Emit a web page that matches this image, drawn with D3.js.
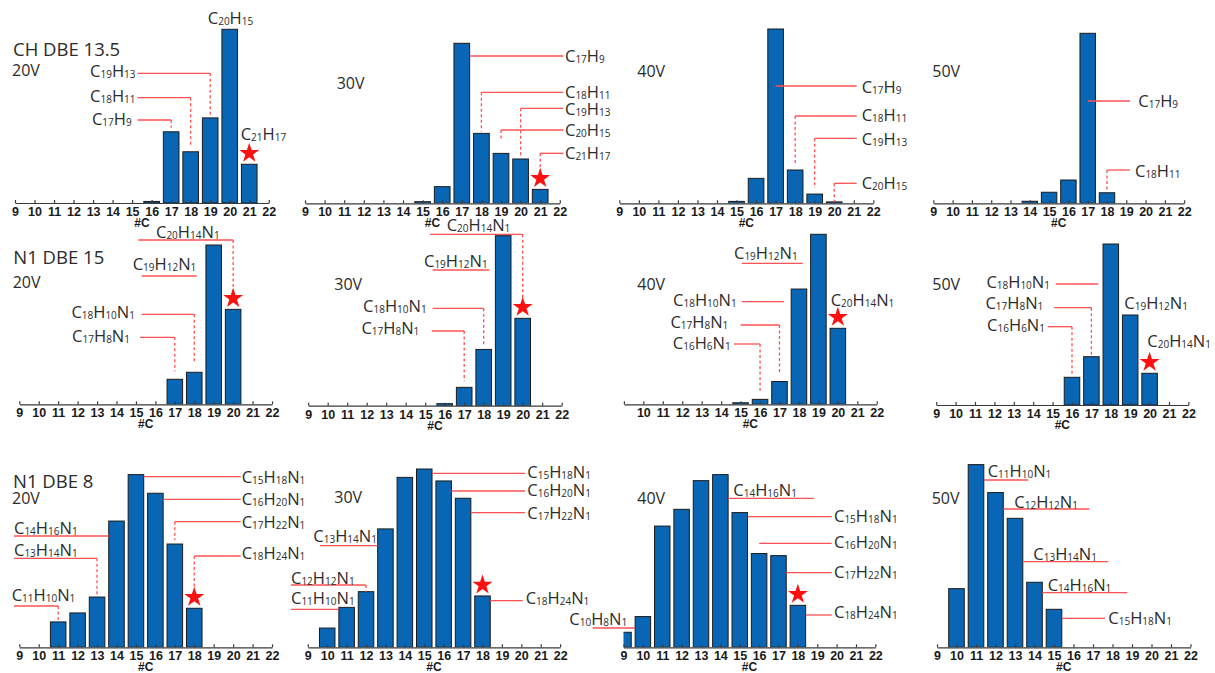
<!DOCTYPE html>
<html>
<head>
<meta charset="utf-8">
<script src="https://cdn.jsdelivr.net/npm/d3@7"></script>
<style>
  body { margin: 0; background: #fff; }
</style>
</head>
<body>
<div id="chart"></div>
<script>
var vWidth = 1215;
var vHeight = 673;

// ---- data: carbon number (#C) and relative abundance for each panel ----
var chC_20V = [16, 17, 18, 19, 20, 21];
var chI_20V = [0.9, 41, 29.5, 49, 100, 22.3];
var chC_30V = [15, 16, 17, 18, 19, 20, 21];
var chI_30V = [1, 10.4, 100, 43.7, 31.2, 27.7, 8.7];
var chC_40V = [15, 16, 17, 18, 19, 20];
var chI_40V = [1.1, 14.3, 100, 19.1, 5.3, 0.8];
var chC_50V = [14, 15, 16, 17, 18];
var chI_50V = [1.2, 6.5, 13.7, 100, 6.2];

var n15C_20V = [17, 18, 19, 20];
var n15I_20V = [15.7, 20.1, 100, 59.6];
var n15C_30V = [16, 17, 18, 19, 20];
var n15I_30V = [1.2, 10.8, 33.1, 100, 51.4];
var n15C_40V = [15, 16, 17, 18, 19, 20];
var n15I_40V = [0.9, 2.9, 13.4, 67.8, 100, 44.7];
var n15C_50V = [16, 17, 18, 19, 20];
var n15I_50V = [17.2, 30, 100, 55.9, 19.7];

var n8C_20V = [11, 12, 13, 14, 15, 16, 17, 18];
var n8I_20V = [14.7, 19.9, 29.1, 73.1, 100, 89.2, 59.8, 22.6];
var n8C_30V = [10, 11, 12, 13, 14, 15, 16, 17, 18];
var n8I_30V = [10.8, 22.4, 31.2, 66.4, 95.3, 100, 93.3, 83.6, 28.8];
var n8C_40V = [9, 10, 11, 12, 13, 14, 15, 16, 17, 18];
var n8I_40V = [8.7, 17.8, 70.2, 79.9, 96.5, 100, 78, 54.3, 53.1, 24.3];
var n8C_50V = [10, 11, 12, 13, 14, 15];
var n8I_50V = [32.1, 100, 84.7, 70.6, 35.6, 20.8];

// formula labels and the #C they point to
var chLab_20V = ["C20H15", "C19H13", "C18H11", "C17H9", "C21H17"];
var chTgt_20V = [20, 19, 18, 17, 21];
var chLab_30V = ["C17H9", "C18H11", "C19H13", "C20H15", "C21H17"];
var chTgt_30V = [17, 18, 20, 19, 21];
var chLab_40V = ["C17H9", "C18H11", "C19H13", "C20H15"];
var chTgt_40V = [17, 18, 19, 20];
var chLab_50V = ["C17H9", "C18H11"];
var chTgt_50V = [17, 18];

var n15Lab_20V = ["C20H14N1", "C19H12N1", "C18H10N1", "C17H8N1"];
var n15Tgt_20V = [20, 19, 18, 17];
var n15Lab_30V = ["C20H14N1", "C19H12N1", "C18H10N1", "C17H8N1"];
var n15Tgt_30V = [20, 19, 18, 17];
var n15Lab_40V = ["C19H12N1", "C18H10N1", "C17H8N1", "C16H6N1", "C20H14N1"];
var n15Tgt_40V = [19, 18, 17, 16, 20];
var n15Lab_50V = ["C18H10N1", "C17H8N1", "C16H6N1", "C19H12N1", "C20H14N1"];
var n15Tgt_50V = [18, 17, 16, 19, 20];

var n8Lab_20V = ["C15H18N1", "C16H20N1", "C17H22N1", "C18H24N1", "C14H16N1", "C13H14N1", "C11H10N1"];
var n8Tgt_20V = [15, 16, 17, 18, 14, 13, 11];
var n8Lab_30V = ["C15H18N1", "C16H20N1", "C17H22N1", "C18H24N1", "C13H14N1", "C12H12N1", "C11H10N1"];
var n8Tgt_30V = [15, 16, 17, 18, 13, 12, 11];
var n8Lab_40V = ["C14H16N1", "C15H18N1", "C16H20N1", "C17H22N1", "C18H24N1", "C10H8N1"];
var n8Tgt_40V = [14, 15, 16, 17, 18, 10];
var n8Lab_50V = ["C11H10N1", "C12H12N1", "C13H14N1", "C14H16N1", "C15H18N1"];
var n8Tgt_50V = [11, 12, 13, 14, 15];

var tickNums = d3.range(9, 23);

// ---- panel layout (positions in page pixels) ----
var panels = [
  {C: chC_20V, I: chI_20V, lab: chLab_20V, tgt: chTgt_20V, star: 21,
   x9: 15, step: 19.52, axisY: 203, maxH: 173.7,
   title: ["CH DBE 13.5", 13, 56], volt: ["20V", 12, 76],
   ann: [
     {a: "middle", tx: 230.5, ty: 24},
     {a: "end", tx: 135.5, ty: 77.3, ly: 73.3, lx: 137.5, gap: 3},
     {a: "end", tx: 135.5, ty: 101.5, ly: 97.7, lx: 137.5, gap: 5},
     {a: "end", tx: 131.7, ty: 125, ly: 120, lx: 137.5, gap: 4},
     {a: "start", tx: 240.7, ty: 140}
   ]},
  {C: chC_30V, I: chI_30V, lab: chLab_30V, tgt: chTgt_30V, star: 21,
   x9: 305, step: 19.6, axisY: 203.3, maxH: 160,
   volt: ["30V", 336.7, 89.3],
   ann: [
     {a: "start", tx: 565, ty: 62, ly: 56, lx: 563.3, end: "right"},
     {a: "start", tx: 565, ty: 97.5, ly: 92.3, lx: 563.3, gap: 2},
     {a: "start", tx: 565, ty: 114.5, ly: 108.3, lx: 563.3, gap: 2},
     {a: "start", tx: 565, ty: 136, ly: 130, lx: 563.3, gap: 13},
     {a: "start", tx: 565, ty: 159, ly: 153.3, lx: 563.3, gap: 16}
   ]},
  {C: chC_40V, I: chI_40V, lab: chLab_40V, tgt: chTgt_40V, star: null,
   x9: 619.3, step: 19.54, axisY: 203.3, maxH: 174.3,
   volt: ["40V", 637.3, 76.7],
   ann: [
     {a: "start", tx: 861.7, ty: 93, ly: 86, lx: 856.7, end: "center"},
     {a: "start", tx: 861.7, ty: 120.5, ly: 116, lx: 856.7, gap: 7},
     {a: "start", tx: 861.7, ty: 145, ly: 138.3, lx: 856.7, gap: 6},
     {a: "start", tx: 861.7, ty: 189, ly: 183.3, lx: 856.7, gap: 0}
   ]},
  {C: chC_50V, I: chI_50V, lab: chLab_50V, tgt: chTgt_50V, star: null,
   x9: 933.3, step: 19.3, axisY: 203.3, maxH: 170,
   volt: ["50V", 932.3, 77.3],
   ann: [
     {a: "start", tx: 1138.3, ty: 107, ly: 101, lx: 1130, end: "center"},
     {a: "start", tx: 1135, ty: 177, ly: 170, lx: 1130, gap: 3}
   ]},

  {C: n15C_20V, I: n15I_20V, lab: n15Lab_20V, tgt: n15Tgt_20V, star: 20,
   x9: 19.3, step: 19.44, axisY: 404.3, maxH: 159.3,
   title: ["N1 DBE 15", 13.3, 264.3], volt: ["20V", 12.7, 288.3],
   ann: [
     {a: "start", tx: 156, ty: 238, ly: 240, lx: 138.3, gap: 14},
     {a: "start", tx: 132.7, ty: 270, ly: 276, lx: 141.7, end: 196.7},
     {a: "end", tx: 135, ty: 318, ly: 314.3, lx: 141.7, gap: 9},
     {a: "end", tx: 130, ty: 341.5, ly: 337.3, lx: 140, gap: 8}
   ]},
  {C: n15C_30V, I: n15I_30V, lab: n15Lab_30V, tgt: n15Tgt_30V, star: 20,
   x9: 308.2, step: 19.5, axisY: 405.7, maxH: 170,
   volt: ["30V", 334.3, 290],
   ann: [
     {a: "start", tx: 446.7, ty: 231, ly: 234.3, lx: 430, gap: 20},
     {a: "start", tx: 424, ty: 266.5, ly: 270, lx: 432.7, end: 489.3},
     {a: "end", tx: 426.7, ty: 312, ly: 308.3, lx: 432.7, gap: 3},
     {a: "end", tx: 419.3, ty: 334, ly: 331, lx: 431.7, gap: 6}
   ]},
  {C: n15C_40V, I: n15I_40V, lab: n15Lab_40V, tgt: n15Tgt_40V, star: 20, hide9: true,
   x9: 623.9, step: 19.45, axisY: 404.3, maxH: 170,
   volt: ["40V", 637.3, 290],
   ann: [
     {a: "start", tx: 734, ty: 259, ly: 263.3, lx: 741.7, end: 802.7},
     {a: "end", tx: 736.7, ty: 306, ly: 301.7, lx: 741.7, end: 784},
     {a: "end", tx: 728.3, ty: 327.5, ly: 325, lx: 740.7, gap: 8},
     {a: "end", tx: 730.7, ty: 349, ly: 344, lx: 734, gap: 8},
     {a: "start", tx: 830.7, ty: 306}
   ]},
  {C: n15C_50V, I: n15I_50V, lab: n15Lab_50V, tgt: n15Tgt_50V, star: 20,
   x9: 936.2, step: 19.4, axisY: 405, maxH: 161,
   volt: ["50V", 932.3, 290],
   ann: [
     {a: "end", tx: 1050, ty: 287.5, ly: 284, lx: 1055.7, end: 1098.3},
     {a: "end", tx: 1043.3, ty: 309.3, ly: 307.7, lx: 1054.3, gap: 2},
     {a: "end", tx: 1045, ty: 331, ly: 326.7, lx: 1047.7, gap: 2},
     {a: "start", tx: 1124.3, ty: 309.3},
     {a: "start", tx: 1147.3, ty: 347.3}
   ]},

  {C: n8C_20V, I: n8I_20V, lab: n8Lab_20V, tgt: n8Tgt_20V, star: 18,
   x9: 19.3, step: 19.44, axisY: 647.3, maxH: 172.7,
   title: ["N1 DBE 8", 13, 487.5], volt: ["20V", 12, 504],
   ann: [
     {a: "start", tx: 241.7, ty: 482.5, ly: 476.7, lx: 240.7, end: "right"},
     {a: "start", tx: 241.7, ty: 505, ly: 499.3, lx: 240.7, end: "right"},
     {a: "start", tx: 241.7, ty: 528, ly: 521.7, lx: 240.7, gap: 4},
     {a: "start", tx: 241.7, ty: 559, ly: 556, lx: 240.7, gap: 15},
     {a: "start", tx: 14, ty: 533.5, ly: 536, lx: 14, end: "left"},
     {a: "start", tx: 14, ty: 555.5, ly: 558.3, lx: 14, gap: 2},
     {a: "start", tx: 11.7, ty: 601, ly: 606, lx: 14, gap: 0}
   ]},
  {C: n8C_30V, I: n8I_30V, lab: n8Lab_30V, tgt: n8Tgt_30V, star: 18,
   x9: 307.8, step: 19.41, axisY: 647.3, maxH: 178.3,
   volt: ["30V", 334.3, 503.3],
   ann: [
     {a: "start", tx: 527.3, ty: 477.5, ly: 473.3, lx: 525, end: "right"},
     {a: "start", tx: 527.3, ty: 496, ly: 491, lx: 525, end: "right"},
     {a: "start", tx: 527.3, ty: 519, ly: 512.7, lx: 525, end: "right"},
     {a: "start", tx: 525.7, ty: 604, ly: 600.7, lx: 522.7, end: "right"},
     {a: "start", tx: 313.3, ty: 542, ly: 545.7, lx: 320, end: "left"},
     {a: "start", tx: 291, ty: 583.5, ly: 585, lx: 291, gap: 0},
     {a: "start", tx: 291, ty: 603.5, ly: 609.3, lx: 291, end: "left"}
   ]},
  {C: n8C_40V, I: n8I_40V, lab: n8Lab_40V, tgt: n8Tgt_40V, star: 18,
   x9: 623.5, step: 19.375, axisY: 647.3, maxH: 172.7,
   volt: ["40V", 637.3, 504],
   ann: [
     {a: "start", tx: 733.3, ty: 496, ly: 498.3, lx: 814, end: "right"},
     {a: "start", tx: 834, ty: 521.5, ly: 516.7, lx: 831.7, end: "right"},
     {a: "start", tx: 834, ty: 548, ly: 543.3, lx: 831.7, end: "center"},
     {a: "start", tx: 834, ty: 578, ly: 572.7, lx: 831.7, end: "right"},
     {a: "start", tx: 834, ty: 618, ly: 615, lx: 831.7, end: "right"},
     {a: "start", tx: 569.3, ty: 624.5, ly: 628, lx: 592.7, end: "left"}
   ]},
  {C: n8C_50V, I: n8I_50V, lab: n8Lab_50V, tgt: n8Tgt_50V, star: null,
   x9: 937, step: 19.5, axisY: 647.3, maxH: 182.7,
   volt: ["50V", 931.7, 504],
   ann: [
     {a: "start", tx: 987.7, ty: 477, ly: 480, lx: 1028.3, end: "right"},
     {a: "start", tx: 1014.3, ty: 508, ly: 509, lx: 1089.3, end: "right"},
     {a: "start", tx: 1033.3, ty: 560, ly: 561.7, lx: 1108.3, end: "right"},
     {a: "start", tx: 1047.7, ty: 590.5, ly: 592.7, lx: 1127.3, end: "right"},
     {a: "start", tx: 1108.3, ty: 624, ly: 618.3, lx: 1105, end: "right"}
   ]}
];

var barFill = "#0866b4";
var lineRed = "#ff5252";
var textCol = "#2b2b2b";
var labFont = "'Open Sans', 'DejaVu Sans', sans-serif";
var tickFont = "'Liberation Sans', Arial, sans-serif";

var svg = d3.select("#chart")
            .append("svg")
            .attr("width", vWidth)
            .attr("height", vHeight)
            .style("display", "block");

// write a formula such as C20H14N1 with small subscript digits
function addFormula(t, str) {
  var toks = str.match(/[A-Z][a-z]?|\d+/g);
  var down = false;
  toks.forEach(function (tok) {
    var ts = t.append("tspan").text(tok);
    if (/^\d/.test(tok)) {
      ts.attr("font-size", 10);
      if (!down) { ts.attr("dy", 1); down = true; }
    } else if (down) {
      ts.attr("dy", -1);
      down = false;
    }
  });
}

var layerBars = svg.append("g");
var layerAxes = svg.append("g");
var layerLines = svg.append("g");
var layerText = svg.append("g");

panels.forEach(function (p, pi) {
  var x = d3.scaleLinear().domain([9, 22]).range([p.x9, p.x9 + 13 * p.step]);
  var y = d3.scaleLinear().domain([0, 100]).range([p.axisY, p.axisY - p.maxH]);
  var bw = p.step * 0.8;
  var rows = p.C.map(function (c, i) { return {c: c, v: p.I[i]}; });
  function valueAt(c) { return p.I[p.C.indexOf(c)]; }

  // clip bars to the axis range (the #C = 9 bar is cut in half)
  svg.append("clipPath").attr("id", "clip" + pi)
    .append("rect")
    .attr("x", x(9)).attr("y", 0)
    .attr("width", x(22) - x(9)).attr("height", p.axisY);

  layerBars.append("g")
    .attr("clip-path", "url(#clip" + pi + ")")
    .selectAll("rect")
    .data(rows)
    .enter()
    .append("rect")
    .attr("x", function (d) { return x(d.c) - bw / 2; })
    .attr("y", function (d) { return y(d.v); })
    .attr("width", bw)
    .attr("height", function (d) { return y(0) - y(d.v); })
    .attr("fill", barFill)
    .attr("stroke", "#1c1c1c")
    .attr("stroke-width", 1);

  // x axis
  var axis = d3.axisBottom(x)
    .tickValues(tickNums)
    .tickSize(-3)
    .tickSizeOuter(0)
    .tickPadding(4)
    .tickFormat(function (d) { return (p.hide9 && d === 9) ? "" : d; });
  var ag = layerAxes.append("g")
    .attr("transform", "translate(0," + p.axisY + ")")
    .call(axis);
  ag.attr("font-family", tickFont).attr("font-size", 12.5).attr("font-weight", "bold");
  ag.select(".domain").attr("stroke", "#3a3a3a").attr("stroke-width", 1.2);
  ag.selectAll(".tick line").attr("stroke", "#3a3a3a").attr("stroke-width", 1.2);
  ag.selectAll(".tick text").attr("fill", "#1a1a1a");

  layerAxes.append("text")
    .attr("x", (x(9) + x(22)) / 2)
    .attr("y", p.axisY + 24)
    .attr("text-anchor", "middle")
    .attr("font-family", tickFont)
    .attr("font-weight", "bold")
    .attr("font-size", 12)
    .attr("fill", "#1a1a1a")
    .text("#C");

  // titles
  if (p.title) {
    layerText.append("text")
      .attr("x", p.title[1]).attr("y", p.title[2])
      .attr("font-family", labFont).attr("font-size", 18.5)
      .attr("fill", textCol)
      .text(p.title[0]);
  }
  layerText.append("text")
    .attr("x", p.volt[1]).attr("y", p.volt[2])
    .attr("font-family", labFont).attr("font-size", 16)
    .attr("fill", textCol)
    .text(p.volt[0]);

  // formula annotations with red leader lines
  p.lab.forEach(function (lab, i) {
    var a = p.ann[i];
    var c = p.tgt[i];
    var xc = x(c);
    var top = y(valueAt(c));

    if (a.gap !== undefined) {
      layerLines.append("line")
        .attr("x1", a.lx).attr("x2", xc)
        .attr("y1", a.ly).attr("y2", a.ly)
        .attr("stroke", lineRed).attr("stroke-width", 1.3);
      layerLines.append("line")
        .attr("x1", xc).attr("x2", xc)
        .attr("y1", a.ly).attr("y2", top - a.gap)
        .attr("stroke", lineRed).attr("stroke-width", 1.3)
        .attr("stroke-dasharray", "3,2.5");
    } else if (a.end !== undefined) {
      var ex = a.end === "center" ? xc
             : a.end === "right" ? xc + bw / 2
             : a.end === "left" ? xc - bw / 2
             : a.end;
      layerLines.append("line")
        .attr("x1", a.lx).attr("x2", ex)
        .attr("y1", a.ly).attr("y2", a.ly)
        .attr("stroke", lineRed).attr("stroke-width", 1.3);
    }

    var t = layerText.append("text")
      .attr("x", a.tx).attr("y", a.ty)
      .attr("text-anchor", a.a)
      .attr("font-family", labFont)
      .attr("font-size", 16.5)
      .attr("fill", textCol);
    addFormula(t, lab);
  });

  // red star on the highlighted bar
  if (p.star !== null) {
    layerText.append("path")
      .attr("d", d3.symbol().type(d3.symbolStar).size(125)())
      .attr("transform", "translate(" + x(p.star) + "," + (y(valueAt(p.star)) - 11) + ")")
      .attr("fill", "#ff1010");
  }
});
</script>
</body>
</html>
